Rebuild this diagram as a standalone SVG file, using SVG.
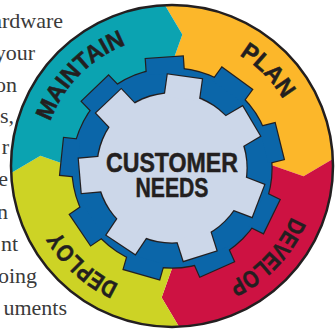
<svg xmlns="http://www.w3.org/2000/svg" width="335" height="331" viewBox="0 0 335 331">
<style>
.body{font-family:"Liberation Serif","Times New Roman",serif;font-size:22px;fill:#3a3a3a}
.lbl{font-family:"Liberation Sans",Arial,sans-serif;font-weight:bold;font-size:24px;fill:#231f20;stroke:#231f20;stroke-width:0.5}
.ctr{font-family:"Liberation Sans",Arial,sans-serif;font-weight:bold;font-size:27px;fill:#231f20;stroke:#231f20;stroke-width:0.5}
.ink{fill:#231f20;stroke:#231f20;stroke-width:2.4}
</style>
<defs>
<clipPath id="disc"><circle cx="172" cy="166" r="161"/></clipPath>
<path id="arcpath" d="M172,36.5 A129.5,129.5 0 1,1 172,295.5 A129.5,129.5 0 1,1 172,36.5"/>
<rect id="btooth" x="-18.5" y="-110.5" width="37" height="16"/>
<rect id="ltooth" x="-17.2" y="-92" width="34.4" height="22"/>
</defs>

<g id="paragraph" class="body" text-anchor="end">
<text x="63" y="28">ardware</text>
<text x="35" y="60">your</text>
<text x="17" y="92">on</text>
<text x="14" y="123">s,</text>
<text x="9" y="154">r</text>
<text x="8" y="186">e</text>
<text x="8" y="219">n</text>
<text x="18" y="251">nt</text>
<text x="37" y="283">oing</text>
<text x="67" y="315">uments</text>
</g>

<g id="ring" clip-path="url(#disc)">
<path id="plan-seg" fill="#fcb72a" d="M172,166 L171.13,66 L182.36,34.41 L164.98,5.15 L163.28,-33.8 L380,-40 L371.8,157.3 L332.85,158.98 L303.59,176.36 L272,165.13 Z"/>
<path id="develop-seg" fill="#cd1242" d="M172,166 L272,165.13 L303.59,176.36 L332.85,158.98 L371.8,157.3 L380,370 L180.72,365.8 L179.02,326.85 L161.64,297.59 L172.87,266 Z"/>
<path id="deploy-seg" fill="#cdd325" d="M172,166 L172.87,266 L161.64,297.59 L179.02,326.85 L180.72,365.8 L-40,370 L-27.8,174.7 L11.15,173.02 L40.41,155.64 L72,166.87 Z"/>
<path id="maintain-seg" fill="#0ba3b1" d="M172,166 L72,166.87 L40.41,155.64 L11.15,173.02 L-27.8,174.7 L-40,-40 L163.28,-33.8 L164.98,5.15 L182.36,34.41 L171.13,66 Z"/>
</g>
<circle id="rim" cx="172" cy="166" r="161" fill="none" stroke="#231f20" stroke-width="2.5"/>

<g id="gear">
<g transform="translate(172 168)">
<g class="ink">
<circle r="99.5"/>
<use href="#btooth" transform="rotate(-4)"/><use href="#btooth" transform="rotate(36)"/><use href="#btooth" transform="rotate(76)"/>
<use href="#btooth" transform="rotate(116)"/><use href="#btooth" transform="rotate(156)"/><use href="#btooth" transform="rotate(196)"/>
<use href="#btooth" transform="rotate(236)"/><use href="#btooth" transform="rotate(276)"/><use href="#btooth" transform="rotate(316)"/>
</g>
<g fill="#0b66a9">
<circle r="99.5"/>
<use href="#btooth" transform="rotate(-4)"/><use href="#btooth" transform="rotate(36)"/><use href="#btooth" transform="rotate(76)"/>
<use href="#btooth" transform="rotate(116)"/><use href="#btooth" transform="rotate(156)"/><use href="#btooth" transform="rotate(196)"/>
<use href="#btooth" transform="rotate(236)"/><use href="#btooth" transform="rotate(276)"/><use href="#btooth" transform="rotate(316)"/>
</g>
<g class="ink">
<circle r="74.5"/>
<use href="#ltooth" transform="rotate(8)"/><use href="#ltooth" transform="rotate(59.43)"/><use href="#ltooth" transform="rotate(110.86)"/>
<use href="#ltooth" transform="rotate(162.29)"/><use href="#ltooth" transform="rotate(213.71)"/><use href="#ltooth" transform="rotate(265.14)"/>
<use href="#ltooth" transform="rotate(316.57)"/>
</g>
<g fill="#ccd7e9">
<circle r="74.5"/>
<use href="#ltooth" transform="rotate(8)"/><use href="#ltooth" transform="rotate(59.43)"/><use href="#ltooth" transform="rotate(110.86)"/>
<use href="#ltooth" transform="rotate(162.29)"/><use href="#ltooth" transform="rotate(213.71)"/><use href="#ltooth" transform="rotate(265.14)"/>
<use href="#ltooth" transform="rotate(316.57)"/>
</g>
</g>
</g>

<g id="labels" class="lbl" text-anchor="middle">
<text id="maintain"><textPath href="#arcpath" startOffset="711" textLength="111" lengthAdjust="spacingAndGlyphs">MAINTAIN</textPath></text>
<text id="plan"><textPath href="#arcpath" startOffset="102" textLength="63" lengthAdjust="spacingAndGlyphs">PLAN</textPath></text>
<text id="develop"><textPath href="#arcpath" startOffset="302" textLength="93" lengthAdjust="spacingAndGlyphs">DEVELOP</textPath></text>
<text id="deploy"><textPath href="#arcpath" startOffset="502" textLength="81" lengthAdjust="spacingAndGlyphs">DEPLOY</textPath></text>
</g>

<g id="customer-needs" class="ctr" text-anchor="middle">
<text x="172" y="172" textLength="132" lengthAdjust="spacingAndGlyphs">CUSTOMER</text>
<text x="172" y="197" textLength="73" lengthAdjust="spacingAndGlyphs">NEEDS</text>
</g>
</svg>
